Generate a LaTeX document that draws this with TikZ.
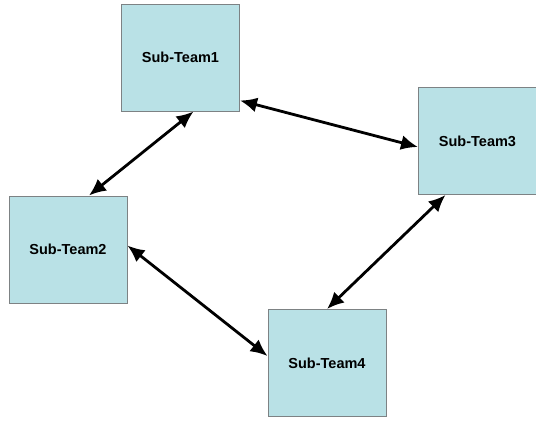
\documentclass[tikz,border=0pt]{standalone}
\usepackage{fontspec}
\setmainfont{Liberation Sans}
\usetikzlibrary{arrows.meta,positioning}
\definecolor{teamfill}{RGB}{185,225,230}
\definecolor{teamedge}{RGB}{125,130,132}

\begin{document}
\begin{tikzpicture}[
    x=1pt,y=-1pt,
    font=\fontsize{14.5}{17}\selectfont\bfseries,
    box/.style={draw=teamedge,line width=1pt,fill=teamfill,
                minimum width=118pt,minimum height=107pt,inner sep=0pt},
    ar/.style={{Latex[length=17pt,width=15pt]}-{Latex[length=17pt,width=15pt]},
               line width=2.8pt,black}
  ]
  \useasboundingbox (0,0) rectangle (536,421);

  % sub-teams
  \node[box] (st1) at (180.5,57.5) {Sub-Team1};
  \node[box] (st2) at (68,249.5) {Sub-Team2};
  \node[box] (st3) at (477.5,141) {Sub-Team3};
  \node[box] (st4) at (327,363) {Sub-Team4};

  % links
  \draw[ar] ([yshift=-43pt]st1.east) -- ([yshift=-6pt]st3.west);
  \draw[ar] ([xshift=13pt]st1.south) -- ([xshift=21pt]st2.north);
  \draw[ar] ([yshift=4pt]st2.east) -- ([yshift=7pt]st4.west);
  \draw[ar] ([xshift=-32pt]st3.south) -- (st4.north);
\end{tikzpicture}
\end{document}
